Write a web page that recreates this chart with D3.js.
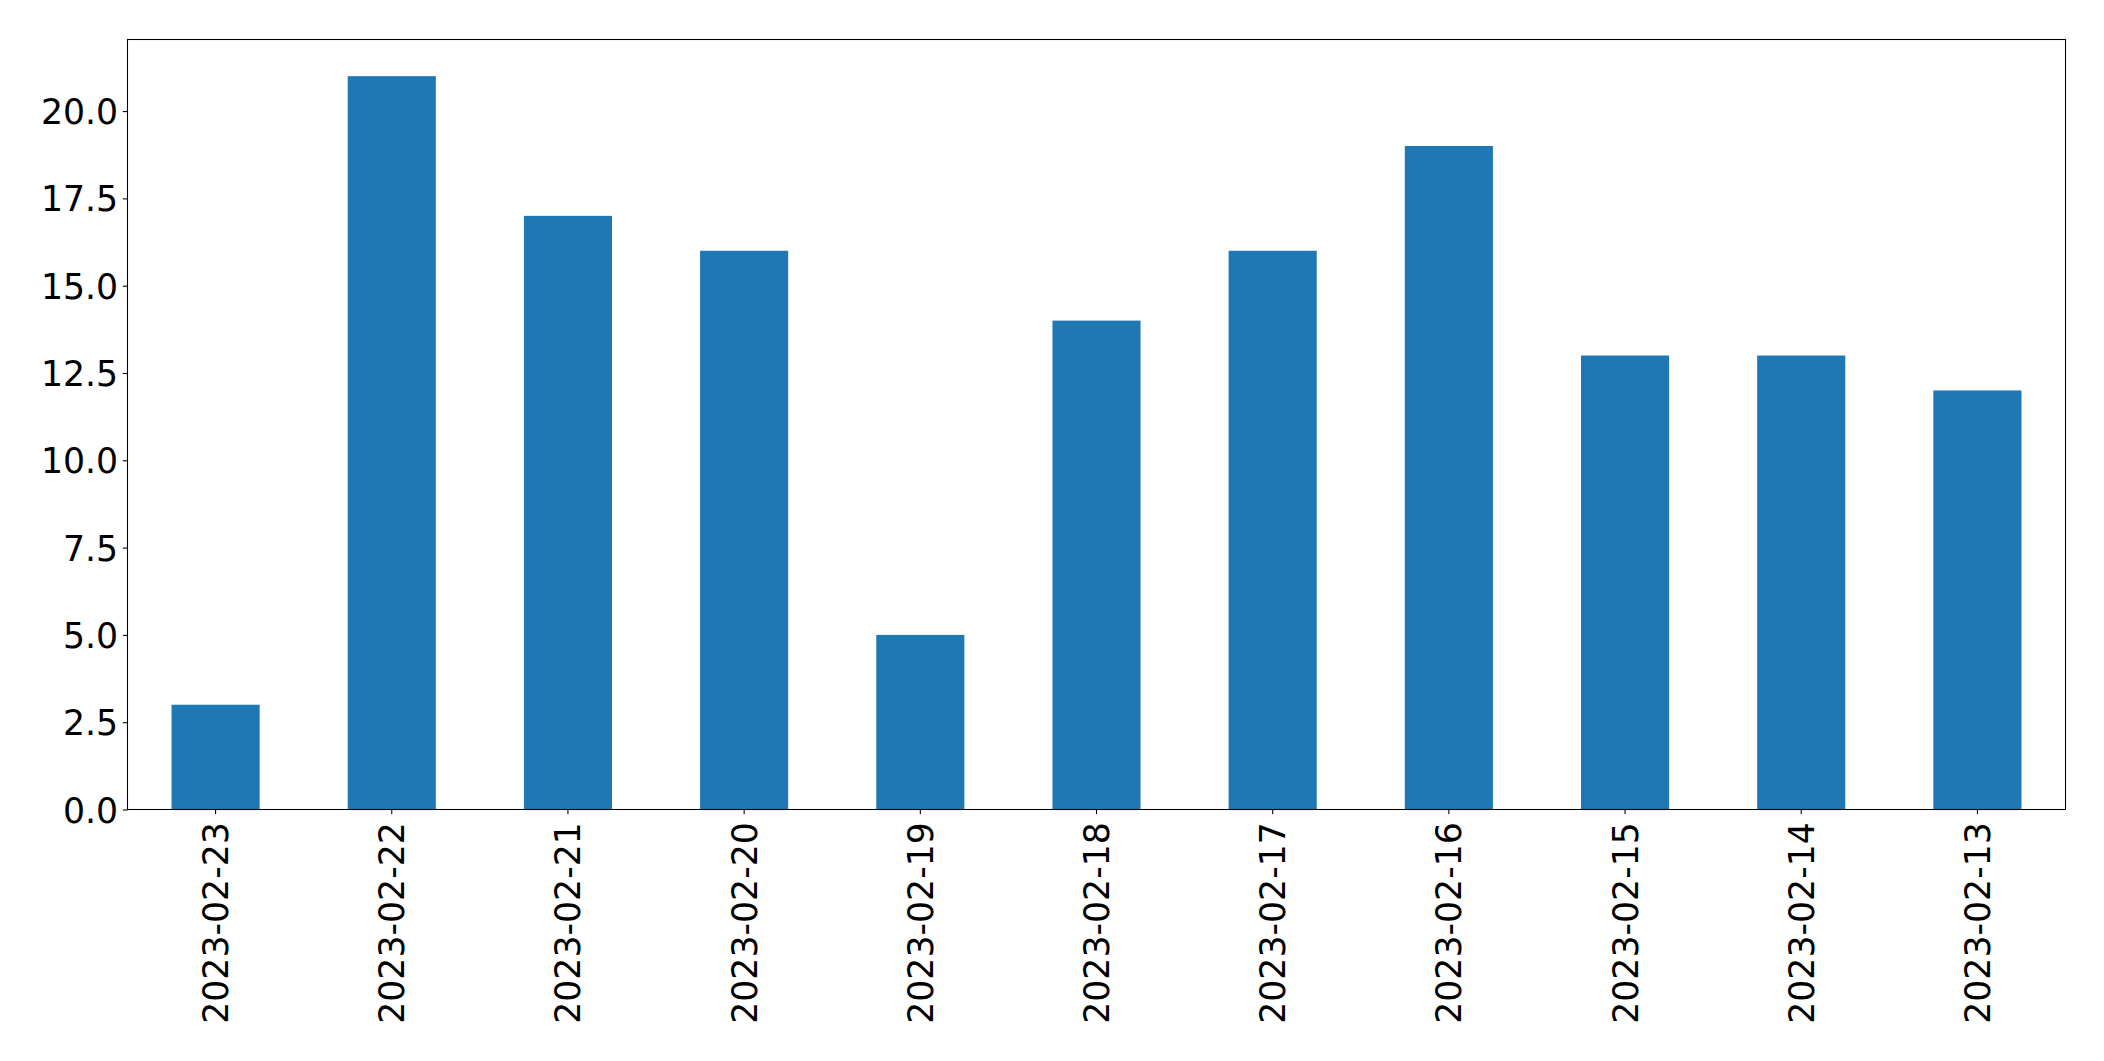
<!DOCTYPE html>
<html><head><meta charset="utf-8">
<script src="https://cdn.jsdelivr.net/npm/d3@7/dist/d3.min.js"></script>
<style>html,body{margin:0;padding:0;background:#fff;}svg{display:block;}</style>
</head><body>
<script>
const categories = ["2023-02-23","2023-02-22","2023-02-21","2023-02-20","2023-02-19","2023-02-18","2023-02-17","2023-02-16","2023-02-15","2023-02-14","2023-02-13"];
const values = [3, 21, 17, 16, 5, 14, 16, 19, 13, 13, 12];
const yTicks = [0, 2.5, 5, 7.5, 10, 12.5, 15, 17.5, 20];

const W = 2104, H = 1061;
const m = {left: 127.5, top: 39.5, right: 2065.5, bottom: 809.5};
const svg = d3.select("body").append("svg").attr("width", W).attr("height", H);
const font = "'DejaVu Sans', sans-serif";
const fs = 34.7;
const tickLen = 4.7;

const x = d3.scaleBand().domain(categories).range([m.left, m.right]).paddingInner(0.5).paddingOuter(0.25);
const y = d3.scaleLinear().domain([0, d3.max(values) * 1.05]).range([m.bottom, m.top]);

svg.append("g").selectAll("rect").data(values).join("rect")
  .attr("x", (d, i) => x(categories[i]))
  .attr("width", x.bandwidth())
  .attr("y", d => y(d))
  .attr("height", d => y(0) - y(d))
  .attr("fill", "#1f77b4");

// frame
svg.append("rect").attr("x", m.left).attr("y", m.top)
  .attr("width", m.right - m.left).attr("height", m.bottom - m.top)
  .attr("fill", "none").attr("stroke", "#000").attr("stroke-width", 1.07);

// y axis
const yAxis = d3.axisLeft(y).tickValues(yTicks).tickFormat(d3.format(".1f")).tickSize(tickLen).tickPadding(4.7);
const gy = svg.append("g").attr("transform", `translate(${m.left},0)`).call(yAxis);
gy.select(".domain").remove();
gy.selectAll("line").attr("stroke", "#000").attr("stroke-width", 1.07);
gy.selectAll("text").attr("font-family", font).attr("font-size", fs).attr("fill", "#000").attr("dy", "0.36em");

// x axis
const xAxis = d3.axisBottom(x).tickSize(tickLen).tickPadding(0);
const gx = svg.append("g").attr("transform", `translate(0,${m.bottom})`).call(xAxis);
gx.select(".domain").remove();
gx.selectAll("line").attr("stroke", "#000").attr("stroke-width", 1.07);
gx.selectAll("text")
  .attr("font-family", font).attr("font-size", fs).attr("fill", "#000")
  .attr("text-anchor", "end")
  .attr("y", 0).attr("x", 0).attr("dy", "0.36em")
  .attr("transform", `translate(0,${tickLen + 8}) rotate(-90)`);
</script>
</body></html>
